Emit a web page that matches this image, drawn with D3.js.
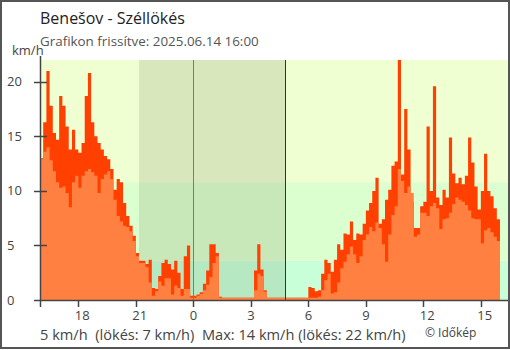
<!DOCTYPE html>
<html>
<head>
<meta charset="utf-8">
<script src="https://cdn.jsdelivr.net/npm/d3@7"></script>
<style>
  html, body { margin: 0; padding: 0; background: #fff; }
  svg { display: block; font-family: "Open Sans", sans-serif; }
</style>
</head>
<body>
<svg id="chart" width="510" height="350"></svg>
<script>
// 10-minute observations from 2025-06-13 16:00 to 2025-06-14 15:50 (km/h)
const gust = [
  13.0, 16.3, 21.0, 17.8, 15.3, 14.7, 18.7, 17.8, 15.9, 13.8,
  15.6, 13.8, 13.5, 14.4, 18.7, 20.8, 16.3, 15.0, 14.4, 13.8,
  13.2, 12.9, 12.0, 10.1, 11.1, 10.8, 8.9, 7.7, 6.8, 5.9,
  4.3, 3.6, 3.6, 3.3, 3.7, 1.1, 1.0, 2.2, 3.4, 3.7,
  3.3, 2.8, 3.6, 2.5, 1.0, 4.0, 5.0, 0.4, 0.4, 0.5,
  0.7, 1.5, 2.7, 5.1, 5.1, 4.3, 0.3, 0.2, 0.2, 0.2,
  0.2, 0.2, 0.2, 0.2, 0.2, 0.2, 0.2, 2.7, 5.1, 2.8,
  0.9, 0.2, 0.2, 0.2, 0.2, 0.2, 0.2, 0.2, 0.2, 0.2,
  0.2, 0.2, 0.2, 0.2, 1.2, 1.1, 0.8, 0.9, 2.4, 3.7,
  3.4, 2.6, 3.7, 5.1, 4.6, 6.1, 6.0, 7.2, 5.5, 6.1,
  6.0, 7.0, 8.2, 8.9, 10.0, 11.2, 7.0, 7.4, 9.2, 10.1,
  12.3, 12.7, 22.0, 11.5, 17.5, 13.8, 9.0, 6.6, 6.6, 8.6,
  9.0, 15.9, 10.0, 19.6, 9.4, 8.7, 10.1, 9.4, 14.9, 11.6,
  10.7, 11.2, 10.6, 11.4, 14.9, 12.6, 10.4, 8.3, 10.0, 13.4,
  10.0, 9.5, 8.4, 7.4
];
const wind = [
  12.9, 13.6, 14.0, 12.8, 11.8, 10.8, 10.3, 10.4, 9.8, 8.5,
  10.8, 11.4, 10.3, 11.4, 11.8, 12.0, 11.7, 11.4, 9.8, 11.1,
  11.5, 11.8, 11.1, 9.2, 7.7, 7.2, 6.8, 6.7, 6.3, 5.4,
  4.0, 3.4, 3.4, 3.0, 1.6, 0.4, 0.8, 1.7, 1.3, 2.0,
  2.0, 0.5, 1.3, 1.1, 0.4, 1.0, 1.0, 0.2, 0.2, 0.4,
  0.55, 0.9, 1.4, 2.1, 3.4, 4.0, 0.2, 0.2, 0.2, 0.2,
  0.2, 0.2, 0.2, 0.2, 0.2, 0.2, 0.2, 0.9, 2.4, 2.2,
  0.75, 0.2, 0.2, 0.2, 0.2, 0.2, 0.2, 0.2, 0.2, 0.2,
  0.2, 0.2, 0.2, 0.2, 0.2, 0.2, 0.2, 0.3, 0.9, 1.8,
  2.4, 0.6, 0.7, 1.6, 2.9, 3.5, 4.2, 4.9, 4.2, 3.4,
  4.0, 5.5, 6.0, 6.7, 6.3, 7.1, 6.6, 5.1, 3.5, 6.0,
  7.8, 8.6, 12.0, 10.9, 9.8, 10.4, 9.8, 5.8, 6.0, 8.0,
  8.0, 7.7, 8.6, 8.9, 8.4, 6.5, 7.4, 7.5, 8.0, 8.8,
  9.4, 9.2, 9.0, 8.7, 8.2, 7.5, 7.4, 7.4, 5.2, 6.4,
  6.6, 6.2, 5.8, 5.4
];
const yTicks = [0, 5, 10, 15, 20];
const xTickHours = [18, 21, 0, 3, 6, 9, 12, 15];
// Beaufort-like background bands (km/h)
const bandEdges = [0, 3.6, 10.8, 22];
const bandColors = ["#c8ffd9", "#dcffd0", "#efffd2"];
const sunset = new Date(2025, 5, 13, 21, 10);
const sunrise = new Date(2025, 5, 14, 4, 48);
const midnight = new Date(2025, 5, 14, 0, 0);

const start = new Date(2025, 5, 13, 16, 0);
const stepMs = 10 * 60 * 1000;
const times = gust.map((_, i) => new Date(+start + i * stepMs));

const svg = d3.select("#chart");
const x = d3.scaleTime()
  .domain([start, new Date(2025, 5, 14, 16, 30)])
  .range([40, 509.6]);
const y = d3.scaleLinear().domain([0, 22]).range([300, 60]);

// background bands
svg.append("g").selectAll("rect").data(bandColors).join("rect")
  .attr("x", 40).attr("width", 470)
  .attr("y", (d, i) => y(bandEdges[i + 1]))
  .attr("height", (d, i) => y(bandEdges[i]) - y(bandEdges[i + 1]))
  .attr("fill", d => d);

// night shading
svg.append("rect")
  .attr("x", x(sunset)).attr("width", x(sunrise) - x(sunset))
  .attr("y", y(22)).attr("height", y(0) - y(22))
  .attr("fill", "#1a1a00").attr("opacity", 0.1);

// step areas; each reading holds until the next one
function series(vals) {
  const pts = vals.map((v, i) => ({ t: times[i], v }));
  pts.push({ t: new Date(+times[times.length - 1] + stepMs), v: vals[vals.length - 1] });
  return pts;
}
const area = d3.area()
  .curve(d3.curveStepAfter)
  .x(d => x(d.t)).y0(y(0)).y1(d => y(d.v));

svg.append("path").datum(series(gust)).attr("d", area).attr("fill", "#ff4000");
svg.append("path").datum(series(wind)).attr("d", area).attr("fill", "#ff8040");

// midnight and sunrise markers
svg.append("line")
  .attr("x1", Math.round(x(midnight)) + 0.5).attr("x2", Math.round(x(midnight)) + 0.5)
  .attr("y1", 60).attr("y2", 307)
  .attr("stroke", "#3a8fc4").attr("stroke-width", 1);
svg.append("line")
  .attr("x1", Math.round(x(sunrise)) + 0.5).attr("x2", Math.round(x(sunrise)) + 0.5)
  .attr("y1", 60).attr("y2", 300)
  .attr("stroke", "#333").attr("stroke-width", 1);

// axes
const axisColor = "#444";
svg.append("line").attr("x1", 40).attr("x2", 510).attr("y1", 300.5).attr("y2", 300.5)
  .attr("stroke", axisColor).attr("stroke-width", 1.5);
svg.append("line").attr("x1", 40.5).attr("x2", 40.5).attr("y1", 56).attr("y2", 307)
  .attr("stroke", axisColor).attr("stroke-width", 1.5);

const yg = svg.append("g");
yg.selectAll("line").data(yTicks).join("line")
  .attr("x1", 34).attr("x2", d => d === 0 ? 40 : 47)
  .attr("y1", d => Math.round(y(d)) + 0.5).attr("y2", d => Math.round(y(d)) + 0.5)
  .attr("stroke", axisColor).attr("stroke-width", 1.5);
yg.selectAll("text").data(yTicks).join("text")
  .attr("x", 7).attr("y", d => y(d)).attr("dy", "0.35em")
  .attr("font-size", 13).attr("fill", "#444")
  .text(d => d);
svg.append("text").attr("x", 12).attr("y", 55)
  .attr("font-size", 13).attr("fill", "#444").text("km/h");

const xTickDates = xTickHours.map(h => h >= 16 ? new Date(2025, 5, 13, h) : new Date(2025, 5, 14, h));
const xg = svg.append("g");
xg.selectAll("line").data(xTickDates).join("line")
  .attr("x1", d => Math.round(x(d)) + 0.5).attr("x2", d => Math.round(x(d)) + 0.5)
  .attr("y1", 300).attr("y2", 307)
  .attr("stroke", axisColor).attr("stroke-width", 1.5);
xg.selectAll("text").data(xTickDates).join("text")
  .attr("x", d => x(d) - 3.5).attr("y", 320)
  .attr("font-size", 13).attr("fill", "#444")
  .text(d => d.getHours());

// titles
svg.append("text").attr("x", 40).attr("y", 24)
  .attr("font-size", 16).attr("fill", "#222").text("Benešov - Széllökés");
svg.append("text").attr("x", 40).attr("y", 46)
  .attr("font-size", 13.4).attr("fill", "#555").text("Grafikon frissítve: 2025.06.14 16:00");

// summary line
const nowWind = Math.round(wind[wind.length - 1]);
const nowGust = Math.round(gust[gust.length - 1]);
const maxWind = Math.round(d3.max(wind));
const maxGust = Math.round(d3.max(gust));
svg.append("text").attr("x", 40).attr("y", 340)
  .attr("font-size", 14.6).attr("fill", "#444").style("white-space", "pre")
  .text(`${nowWind} km/h  (lökés: ${nowGust} km/h)  Max: ${maxWind} km/h (lökés: ${maxGust} km/h)`);
svg.append("text").attr("x", 425).attr("y", 337)
  .attr("font-size", 12).attr("fill", "#444").text("© Időkép");

// frame
svg.append("rect").attr("x", 1).attr("y", 1).attr("width", 508).attr("height", 347)
  .attr("fill", "none").attr("stroke", "#555").attr("stroke-width", 2);
</script>
</body>
</html>
